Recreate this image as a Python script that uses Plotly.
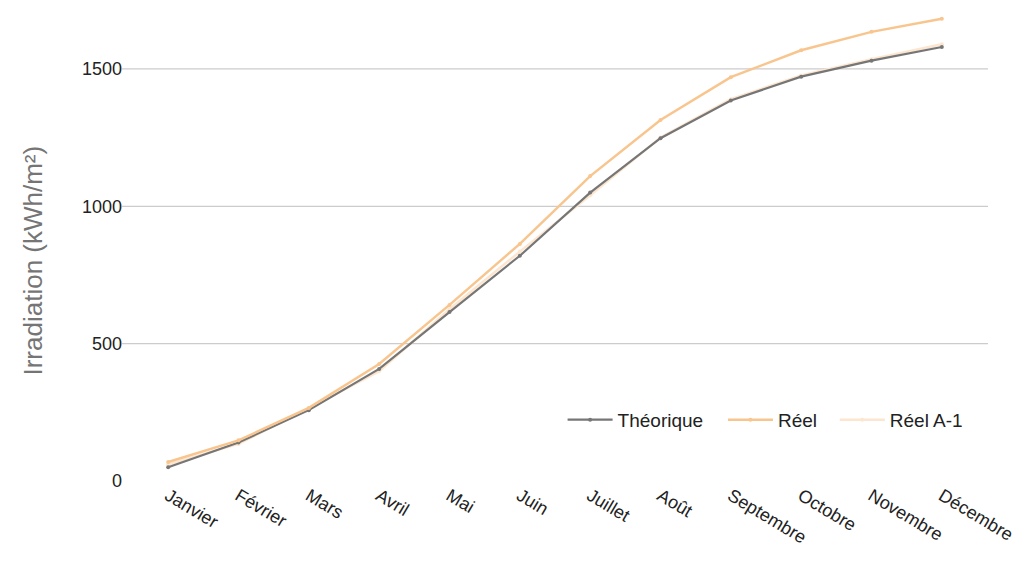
import plotly.graph_objects as go

months = ["Janvier", "Février", "Mars", "Avril", "Mai", "Juin", "Juillet",
          "Août", "Septembre", "Octobre", "Novembre", "Décembre"]
theorique = [50, 140, 258, 408, 615, 820, 1050, 1248, 1385, 1472, 1530, 1580]
reel = [69, 148, 266, 426, 641, 863, 1110, 1314, 1470, 1568, 1635, 1683]
reel_a1 = [60, 135, 265, 400, 625, 835, 1040, 1250, 1390, 1476, 1535, 1590]
y_ticks = [0, 500, 1000, 1500]
y_title = "Irradiation (kWh/m²)"

FONT = "Liberation Sans, Arial, sans-serif"

fig = go.Figure()
fig.add_trace(go.Scatter(x=months, y=reel_a1, name="Réel A-1", mode="lines+markers",
                         line=dict(color="#fde6cf", width=2.5),
                         marker=dict(size=4, color="#fde6cf"), legend="legend3"))
fig.add_trace(go.Scatter(x=months, y=theorique, name="Théorique", mode="lines+markers",
                         line=dict(color="#767676", width=2.2),
                         marker=dict(size=4, color="#767676"), legend="legend"))
fig.add_trace(go.Scatter(x=months, y=reel, name="Réel", mode="lines+markers",
                         line=dict(color="#f8c58e", width=2.5),
                         marker=dict(size=4, color="#f8c58e"), legend="legend2"))

for v in y_ticks[1:]:
    fig.add_shape(type="line", xref="paper", yref="y", x0=-0.013, x1=1.013,
                  y0=v, y1=v, line=dict(color="#cccccc", width=1.2), layer="below")

fig.add_annotation(text=y_title, xref="paper", yref="paper", x=-0.118, y=0.473,
                   xanchor="center", yanchor="middle", textangle=-90, showarrow=False,
                   font=dict(size=26, color="#757575", family=FONT))

leg_common = dict(orientation="h", xanchor="left", y=0.131, yanchor="middle",
                  font=dict(size=19, color="#222222"), itemwidth=45,
                  bgcolor="rgba(255,255,255,0)")

fig.update_layout(
    width=1021, height=563,
    margin=dict(l=125, r=52, t=6, b=90),
    paper_bgcolor="white", plot_bgcolor="white",
    font=dict(family=FONT, size=18, color="#222222"),
    showlegend=True,
    legend=dict(x=0.509, **leg_common),
    legend2=dict(x=0.699, **leg_common),
    legend3=dict(x=0.8315, **leg_common),
    xaxis=dict(showgrid=False, showline=False, zeroline=False, tickangle=31,
               range=[-0.5, 11.5],
               tickfont=dict(size=18, color="#222222"), ticks="", automargin=False),
    yaxis=dict(range=[0, 1700], tickvals=y_ticks, showgrid=False, zeroline=False,
               showline=False, ticklabelstandoff=10, automargin=False,
               tickfont=dict(size=18, color="#222222")),
)

fig.write_html("out.html")
